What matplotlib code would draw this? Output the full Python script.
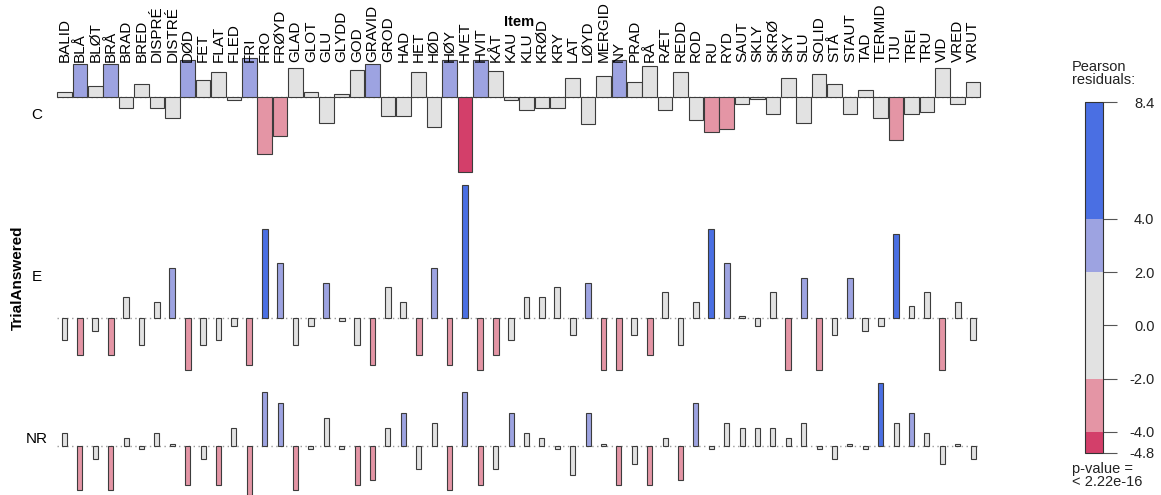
import numpy as np
import matplotlib
matplotlib.use("Agg")
import matplotlib.pyplot as plt
from matplotlib.colors import ListedColormap, BoundaryNorm
from matplotlib.cm import ScalarMappable

plt.rcParams['font.family'] = ['Liberation Sans', 'DejaVu Sans']

items = ["BALID", "BLÅ", "BLØT", "BRÅ", "BRAD", "BRED", "DISPRÉ", "DISTRÉ", "DØD", "FET",
         "FLAT", "FLED", "FRI", "FRO", "FRØYD", "GLAD", "GLOT", "GLU", "GLYDD", "GOD",
         "GRAVID", "GROD", "HAD", "HET", "HØD", "HØY", "HVET", "HVIT", "KÅT", "KAU",
         "KLU", "KRØD", "KRY", "LAT", "LØYD", "MERGID", "NY", "PRAD", "RÅ", "RÆT",
         "REDD", "ROD", "RU", "RYD", "SAUT", "SKLY", "SKRØ", "SKY", "SLU", "SOLID",
         "STÅ", "STAUT", "TAD", "TERMID", "TJU", "TREI", "TRU", "VID", "VRED", "VRUT"]

answers = ["C", "E", "NR"]

# Pearson residuals
res_C = [0.32, 2.05, 0.68, 2.05, -0.70, 0.78, -0.70, -1.35, 2.30, 1.06,
         1.57, -0.21, 2.43, -3.66, -2.50, 1.82, 0.30, -1.65, 0.15, 1.69,
         2.05, -1.23, -1.23, 1.57, -1.90, 2.30, -4.80, 2.30, 1.60, -0.21,
         -0.87, -0.70, -0.70, 1.16, -1.76, 1.31, 2.30, 0.93, 1.95, -0.87,
         1.57, -1.48, -2.24, -2.05, -0.44, -0.17, -1.12, 1.16, -1.65, 1.42,
         0.78, -1.12, 0.42, -1.35, -2.75, -1.12, -0.97, 1.80, -0.44, 0.93]
res_E = [-1.44, -2.37, -0.85, -2.37, 1.33, -1.76, 1.02, 3.15, -3.30, -1.76,
         -1.44, -0.53, -2.98, 5.60, 3.45, -1.76, -0.53, 2.22, -0.20, -1.76,
         -2.98, 1.95, 1.02, -2.37, 3.15, -2.98, 8.40, -3.30, -2.37, -1.44,
         1.33, 1.33, 1.95, -1.12, 2.22, -3.30, -3.30, -1.12, -2.37, 1.63,
         -1.76, 1.02, 5.60, 3.45, 0.10, -0.53, 1.63, -3.30, 2.54, -3.30,
         -1.12, 2.54, -0.85, -0.53, 5.31, 0.72, 1.63, -3.30, 1.02, -1.44]
res_NR = [0.85, -2.75, -0.80, -2.75, 0.51, -0.17, 0.85, 0.15, -2.43, -0.80,
          -2.43, 1.16, -3.10, 3.43, 2.79, -2.75, -0.17, 1.80, -0.17, -2.43,
          -2.12, 1.16, 2.14, -1.44, 1.48, -2.75, 3.43, -2.43, -1.44, 2.14,
          0.85, 0.51, -0.17, -1.82, 2.14, 0.15, -2.43, -1.12, -2.43, 0.51,
          -2.12, 2.79, -0.17, 1.48, 1.16, 1.16, 1.16, 0.51, 1.48, -0.17,
          -0.80, 0.15, -0.17, 4.06, 1.48, 2.14, 0.85, -1.12, 0.15, -0.80]

# relative bar widths (sqrt of expected counts) per answer row
row_width = [0.94, 0.38, 0.33]

bounds = [-4.8, -4.0, -2.0, 2.0, 4.0, 8.4]
colors = ["#D33F6A", "#E495A5", "#E2E2E2", "#9DA3E1", "#4A6FE3"]
legend_ticks = [-4.8, -4.0, -2.0, 0.0, 2.0, 4.0, 8.4]
p_text = "p-value =\n< 2.22e-16"

cmap = ListedColormap(colors)
norm = BoundaryNorm(bounds, cmap.N)

W, H = 1161, 495
fig = plt.figure(figsize=(W / 100, H / 100), dpi=100)

# layout in pixels
left_px, col_px = 56.8, 15.4
scale = 15.75          # px per residual unit
gap = 13
top_px = 58.4
x = np.arange(len(items))

rows = [res_C, res_E, res_NR]
axes = []
for name, res, w in zip(answers, rows, row_width):
    res = np.array(res)
    lo, hi = min(res.min(), 0), max(res.max(), 0)
    h_px = (hi - lo) * scale
    ax = fig.add_axes([left_px / W, 1 - (top_px + h_px) / H,
                       col_px * len(items) / W, h_px / H])
    ax.set_xlim(-0.5, len(items) - 0.5)
    ax.set_ylim(lo, hi)
    ax.axis('off')
    ax.axhline(0, color="#9a9a9a", lw=1.0, ls=(0, (1, 2.5)), zorder=0)
    fc = cmap(norm(np.clip(res, bounds[0], bounds[-1] - 1e-6)))
    ax.bar(x, res, width=w, color=fc, edgecolor="#3c3c3c", linewidth=0.8,
           zorder=2, clip_on=False)
    fig.text(37 / W, 1 - (top_px + h_px / 2) / H, name, ha='center',
             va='center', fontsize=11)
    axes.append(ax)
    top_px += h_px + gap

# item labels along the top
for i, lab in enumerate(items):
    axes[0].annotate(lab, xy=(i, 1), xycoords=('data', 'axes fraction'),
                     xytext=(0, -2.5), textcoords='offset points',
                     rotation=90, ha='center', va='bottom', fontsize=11)

fig.text(519 / W, 1 - 22 / H, "Item", ha='center', va='center',
         fontsize=10.5, fontweight='bold')
fig.text(18 / W, 1 - 278 / H, "TrialAnswered", ha='center', va='center',
         rotation=90, fontsize=11, fontweight='bold')

# legend
cax = fig.add_axes([1085 / W, 1 - 453 / H, 18 / W, 351 / H])
sm = ScalarMappable(norm=norm, cmap=cmap)
cb = fig.colorbar(sm, cax=cax, boundaries=bounds, spacing='proportional',
                  ticks=legend_ticks)
cb.outline.set_linewidth(0.8)
cb.outline.set_edgecolor("#333333")
cb.set_ticklabels(["%.1f" % t for t in legend_ticks])
cax.tick_params(length=10, width=0.8, color="#555555", pad=27,
                labelsize=10.5, labelcolor="#222222")
for t in cax.get_yticklabels():
    t.set_horizontalalignment('right')

fig.text(1072 / W, 1 - 60 / H, "Pearson\nresiduals:", ha='left', va='top',
         fontsize=10.5, linespacing=0.9, color="#222222")
fig.text(1072 / W, 1 - 462 / H, p_text, ha='left', va='top',
         fontsize=10.5, linespacing=0.9, color="#222222")

fig.savefig("out.png", dpi=100)
